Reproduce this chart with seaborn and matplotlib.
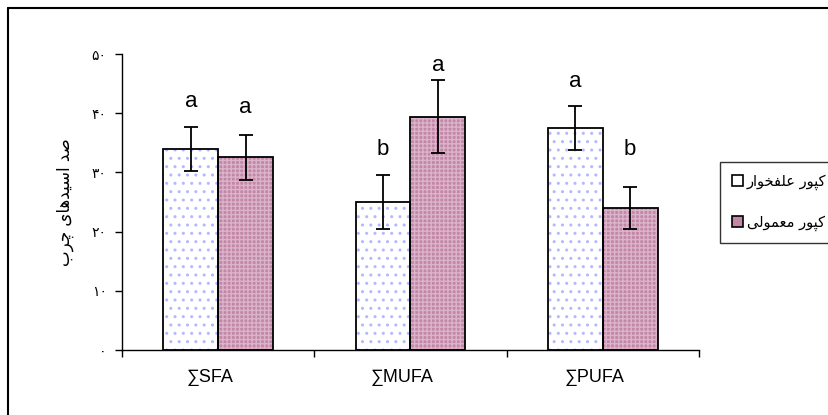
import numpy as np
import pandas as pd
import matplotlib
matplotlib.use("Agg")
import matplotlib.pyplot as plt
import matplotlib.transforms as mtransforms
from matplotlib.patches import Rectangle, Patch
from matplotlib.lines import Line2D
import seaborn as sns

# -----------------------------
# data
# -----------------------------
categories = ["∑SFA", "∑MUFA", "∑PUFA"]
groups = ["کپور علفخوار", "کپور معمولی"]

grass_vals = [34.0, 25.0, 37.5]
grass_err = [3.7, 4.6, 3.8]
common_vals = [32.6, 39.4, 24.0]
common_err = [3.8, 6.2, 3.5]

grass_letters = ["a", "b", "a"]
common_letters = ["a", "a", "b"]
grass_letter_y = [41.9, 33.8, 45.3]
common_letter_y = [40.9, 48.1, 33.8]

ytick_vals = [0, 10, 20, 30, 40, 50]
ytick_labels = ["۰", "۱۰", "۲۰", "۳۰", "۴۰", "۵۰"]
ylabel = "صد اسیدهای چرب"

# -----------------------------
# tiny persian shaper (presentation forms + visual order)
# -----------------------------
FORMS = {
    "ا": ("\uFE8D", "\uFE8E", None, None),
    "ب": ("\uFE8F", "\uFE90", "\uFE91", "\uFE92"),
    "پ": ("\uFB56", "\uFB57", "\uFB58", "\uFB59"),
    "چ": ("\uFB7A", "\uFB7B", "\uFB7C", "\uFB7D"),
    "خ": ("\uFEA5", "\uFEA6", "\uFEA7", "\uFEA8"),
    "د": ("\uFEA9", "\uFEAA", None, None),
    "ر": ("\uFEAD", "\uFEAE", None, None),
    "س": ("\uFEB1", "\uFEB2", "\uFEB3", "\uFEB4"),
    "ص": ("\uFEB9", "\uFEBA", "\uFEBB", "\uFEBC"),
    "ع": ("\uFEC9", "\uFECA", "\uFECB", "\uFECC"),
    "ف": ("\uFED1", "\uFED2", "\uFED3", "\uFED4"),
    "ل": ("\uFEDD", "\uFEDE", "\uFEDF", "\uFEE0"),
    "م": ("\uFEE1", "\uFEE2", "\uFEE3", "\uFEE4"),
    "ه": ("\uFEE9", "\uFEEA", "\uFEEB", "\uFEEC"),
    "و": ("\uFEED", "\uFEEE", None, None),
    "ک": ("\uFB8E", "\uFB8F", "\uFB90", "\uFB91"),
    "ی": ("\uFBFC", "\uFBFD", "\uFBFE", "\uFBFF"),
}


def shape(text):
    out = []
    for i, c in enumerate(text):
        if c not in FORMS:
            out.append(c)
            continue
        iso, fin, ini, med = FORMS[c]
        prev = text[i - 1] if i > 0 else None
        nxt = text[i + 1] if i + 1 < len(text) else None
        jp = prev in FORMS and FORMS[prev][2] is not None
        jn = nxt in FORMS and ini is not None
        if jp and jn:
            out.append(med)
        elif jp:
            out.append(fin)
        elif jn:
            out.append(ini)
        else:
            out.append(iso)
    return "".join(reversed(out))


# -----------------------------
# plot
# -----------------------------
sns.set_theme(style="white")
plt.rcParams["font.family"] = ["Liberation Sans", "DejaVu Sans"]
plt.rcParams["text.color"] = "black"
plt.rcParams["axes.labelcolor"] = "black"
plt.rcParams["xtick.color"] = "black"
plt.rcParams["ytick.color"] = "black"
arabic_font = ["DejaVu Sans"]

df = pd.DataFrame({
    "cat": categories * 2,
    "group": [groups[0]] * 3 + [groups[1]] * 3,
    "value": grass_vals + common_vals,
})

fig = plt.figure(figsize=(8.29, 4.15), dpi=100)
ax = fig.add_axes([122 / 829, 1 - 350 / 415, 577 / 829, 296 / 415])

pink = "#c286a6"
sns.barplot(data=df, x="cat", y="value", hue="group", order=categories,
            hue_order=groups, palette=["white", pink], width=0.57, gap=0,
            errorbar=None, legend=False, ax=ax)

bars = sorted([p for p in ax.patches if p.get_height() > 0], key=lambda p: p.get_x())
vals = [v for pair in zip(grass_vals, common_vals) for v in pair]
errs = [v for pair in zip(grass_err, common_err) for v in pair]
letters = [v for pair in zip(grass_letters, common_letters) for v in pair]
letter_y = [v for pair in zip(grass_letter_y, common_letter_y) for v in pair]

xs = []
for i, p in enumerate(bars):
    if i % 2 == 0:
        p.set_facecolor("white")
        p.set_hatch("..")
        p.set_edgecolor("#b4b8ff")
    else:
        p.set_facecolor(pink)
        p.set_hatch("++++")
        p.set_edgecolor("#dbb3ca")
    p.set_linewidth(0)
    ax.add_patch(Rectangle((p.get_x(), p.get_y()), p.get_width(), p.get_height(),
                           fill=False, edgecolor="black", linewidth=1.3, zorder=3))
    xs.append(p.get_x() + p.get_width() / 2)

ax.errorbar(xs, vals, yerr=errs, fmt="none", ecolor="black", elinewidth=1.3,
            capsize=5, capthick=1.3, zorder=4)

for x, t, y in zip(xs, letters, letter_y):
    ax.text(x, y, t, ha="center", va="center", fontsize=16, color="black")

ax.set_xlim(-0.5, 2.5)
ax.set_ylim(0, 50)
ax.set_xlabel("")
ax.set_ylabel(shape(ylabel), family=arabic_font, fontsize=12, labelpad=13)
ax.set_yticks(ytick_vals)
ax.set_yticklabels(ytick_labels, family=arabic_font, fontsize=10)
ax.set_xticks(range(len(categories)))
ax.set_xticklabels(categories, fontsize=13)
ax.set_xticks([-0.5, 0.5, 1.5, 2.5], minor=True)
ax.tick_params(axis="x", which="major", length=0, pad=14)
ax.tick_params(axis="x", which="minor", length=5, width=1, direction="out", bottom=True)
ax.tick_params(axis="y", length=5, width=1, direction="out", left=True, pad=6)

# category labels sit a little left of the group centre in the original
shift = mtransforms.ScaledTranslation(-8 / 100, 0, fig.dpi_scale_trans)
for lab in ax.get_xticklabels():
    lab.set_transform(lab.get_transform() + shift)

for s in ["top", "right"]:
    ax.spines[s].set_visible(False)
for s in ["left", "bottom"]:
    ax.spines[s].set_color("black")
    ax.spines[s].set_linewidth(1)

handles = [Patch(facecolor="white", edgecolor="black", linewidth=1.2),
           Patch(facecolor=pink, edgecolor="black", linewidth=1.2)]
leg = fig.legend(handles, [shape(g) for g in groups], loc="upper left",
                 bbox_to_anchor=(720 / 829, 1 - 162 / 415), borderaxespad=0,
                 frameon=True, fancybox=False, shadow=False, handlelength=0.75,
                 handleheight=0.75, handletextpad=0.3, labelspacing=1.7,
                 borderpad=0.8, prop={"family": arabic_font, "size": 10.5})
leg.get_frame().set_edgecolor("black")
leg.get_frame().set_linewidth(1)

# outer frame (left and top edges)
fig.add_artist(Line2D([8 / 829, 8 / 829], [0, 1 - 8 / 415], color="black", lw=1.5))
fig.add_artist(Line2D([8 / 829, 1], [1 - 8 / 415, 1 - 8 / 415], color="black", lw=1.5))

fig.savefig("out.png", dpi=100)
